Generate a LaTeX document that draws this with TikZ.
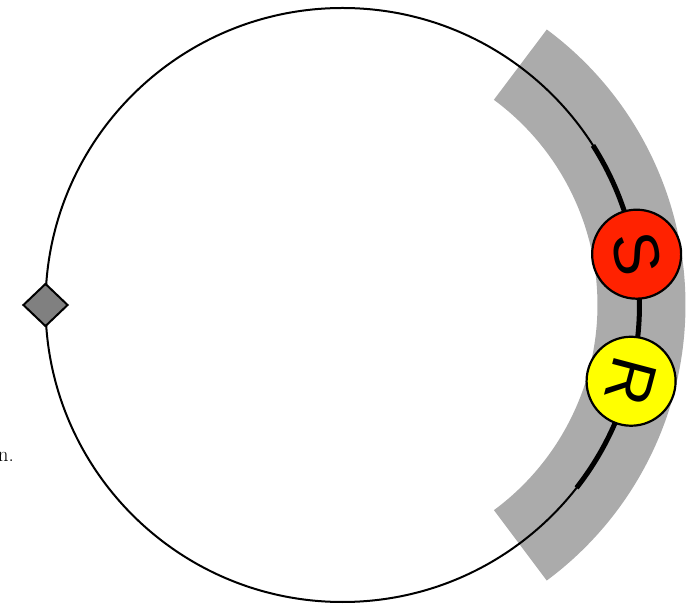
\documentclass[tikz,border=0pt]{standalone}
\usepackage{fontspec}
\newfontfamily\signfont{Liberation Sans}
\usetikzlibrary{shapes.geometric}
\definecolor{BandGray}{HTML}{ABABAB}
\definecolor{SiteRed}{HTML}{FF2200}
\definecolor{SiteYellow}{HTML}{FFFF00}
\definecolor{MarkGray}{HTML}{808080}

\begin{document}
\begin{tikzpicture}[x=1pt, y=1pt,
    ring/.style={draw=black, line width=2pt},
    band/.style={draw=BandGray, line width=88pt},
    thickseg/.style={draw=black, line width=5pt},
    site/.style={circle, draw=black, line width=2.2pt, minimum size=89pt, inner sep=0pt, font=\signfont\fontsize{64}{64}\selectfont},
    marker/.style={diamond, draw=black, line width=2pt, fill=MarkGray, minimum width=45pt, minimum height=43pt, inner sep=0pt}
  ]
    \useasboundingbox (-342.5,-299) rectangle (353.5,305);

    \draw[band] (53.5:299) arc (53.5:-53.5:299);
    \draw[ring] (0,0) circle (297);

    \coordinate (segtop) at (32.5:297);
    \coordinate (segbot) at (-38:297);
    \draw[thickseg] (segtop) arc (32.5:-38:297);

    \node[site, fill=SiteRed] (siteS) at (9.8:298.5) {\rotatebox{-80.2}{S}};
    \node[site, fill=SiteYellow] (siteR) at (-14.8:298.5) {\rotatebox{-104.8}{R}};
    \node[marker] (origin) at (180:297) {};

    \node[anchor=base east, inner sep=0pt, font=\fontsize{21}{25}\selectfont] (caption) at (-328.5,-157) {n.};
  \end{tikzpicture}
\end{document}
